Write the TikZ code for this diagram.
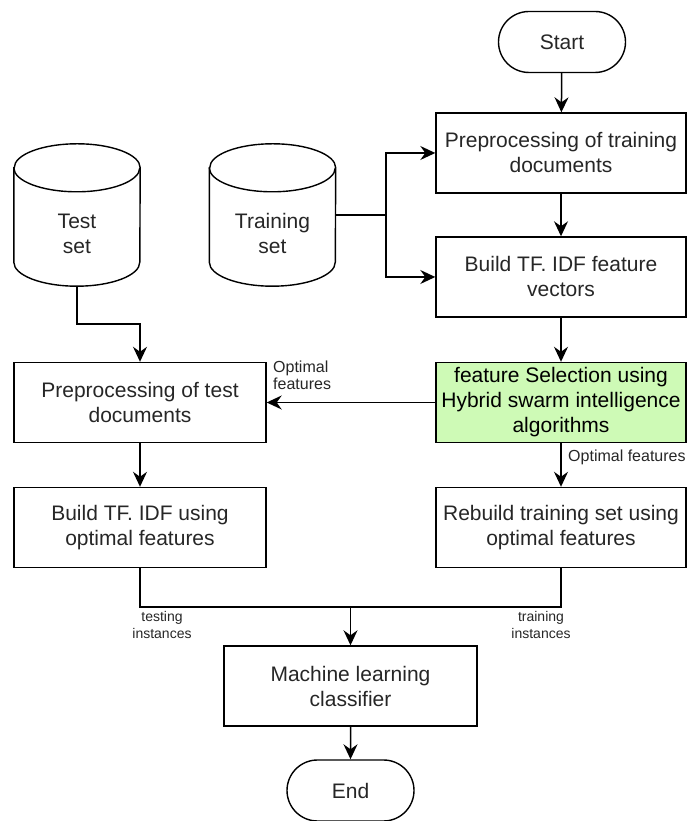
\documentclass[tikz,border=0pt]{standalone}
\usepackage{fontspec}
\setmainfont{Liberation Sans}
\usetikzlibrary{arrows.meta,shapes.misc,calc}
\definecolor{fsgreen}{RGB}{206,250,182}
\definecolor{ink}{RGB}{0,0,0}
\newcommand\mycyl[1]{%
  \draw[line width=1.4pt, fill=white] ($(#1.north west)+(0,-24)$) -- ($(#1.south west)+(0,24)$)
    arc[start angle=180,end angle=360,x radius=63pt,y radius=24pt]
    -- ($(#1.north east)+(0,-24)$)
    arc[start angle=0,end angle=180,x radius=63pt,y radius=24pt] -- cycle;
  \draw[line width=1.4pt] ($(#1.north west)+(0,-24)$)
    arc[start angle=180,end angle=360,x radius=63pt,y radius=24pt];
}
\begin{document}
\begin{tikzpicture}[x=1pt,y=1pt,
  box/.style={draw=ink, line width=1.4pt, minimum width=250pt, minimum height=80pt,
    align=center, font=\fontsize{21}{25}\selectfont, inner sep=0pt, text=black!85},
  term/.style={draw=ink, line width=1.4pt, rounded rectangle, minimum width=127pt,
    minimum height=61pt, font=\fontsize{21}{25}\selectfont, inner sep=0pt, text=black!85},
  cylbox/.style={minimum width=126pt, minimum height=142pt, inner sep=0pt},
  cyltext/.style={align=center, font=\fontsize{21}{25}\selectfont, inner sep=0pt, text=black!85},
  arr/.style={-{Stealth[length=15pt,width=14pt,inset=5pt]}, line width=1.5pt},
  conn/.style={line width=1.5pt},
  lbl/.style={font=\fontsize{16}{17}\selectfont, inner sep=0pt, text=black!85},
  slbl/.style={font=\fontsize{14}{17}\selectfont, align=center, inner sep=0pt, text=black!85}]

\useasboundingbox (0,0) rectangle (687,821);

% terminators
\node[term] (start) at (562,779) {Start};
\node[term] (end) at (350.5,30.5) {End};

% right column
\node[box] (pt) at (561,668) {Preprocessing of training\\documents};
\node[box] (bt) at (561,544) {Build TF. IDF feature\\vectors};
\node[box, fill=fsgreen, text=black] (fs) at (561,418.5) {feature Selection using\\Hybrid swarm intelligence\\algorithms};
\node[box] (rb) at (561,293.5) {Rebuild training set using\\optimal features};

% left column
\node[box, minimum width=252pt] (ptest) at (140,418.5) {Preprocessing of test\\documents};
\node[box, minimum width=252pt] (btest) at (140,293.5) {Build TF. IDF using\\optimal features};

% bottom
\node[box, minimum width=253pt] (ml) at (350.5,135) {Machine learning\\classifier};

% cylinders
\node[cylbox] (tests) at (77,606) {};
\node[cylbox] (trains) at (272.5,606) {};
\mycyl{tests}
\mycyl{trains}
\node[cyltext] (teststxt) at (77,587) {Test\\set};
\node[cyltext] (trainstxt) at (272.5,587) {Training\\set};

% connectors
\coordinate (fork) at (386,606);
\coordinate (tbend) at (77,497);
\coordinate (mg) at (350.5,214);

\draw[arr] (start) -- (pt);
\draw[conn] (trains.east) -- (fork);
\draw[arr] (fork) |- (pt.west);
\draw[arr] (fork) |- (bt.west);
\draw[arr] (pt) -- (bt);
\draw[arr] (bt) -- (fs);
\draw[arr] (fs.west) -- (ptest.east);
\draw[arr] (fs) -- (rb);
\draw[arr] (tests.south) -- (tbend) -| (ptest.north);
\draw[arr] (ptest) -- (btest);
\draw[conn] (btest.south) |- (mg);
\draw[conn] (rb.south) |- (mg);
\draw[arr] (mg) -- (ml);
\draw[arr] (ml) -- (end);

% labels
\node[lbl, anchor=west, align=left] (l1) at (273,446) {Optimal\\features};
\node[lbl, anchor=west] (l2) at (568,364) {Optimal features};
\node[slbl] (l3) at (162,196) {testing\\instances};
\node[slbl] (l4) at (541,196) {training\\instances};
\end{tikzpicture}
\end{document}
